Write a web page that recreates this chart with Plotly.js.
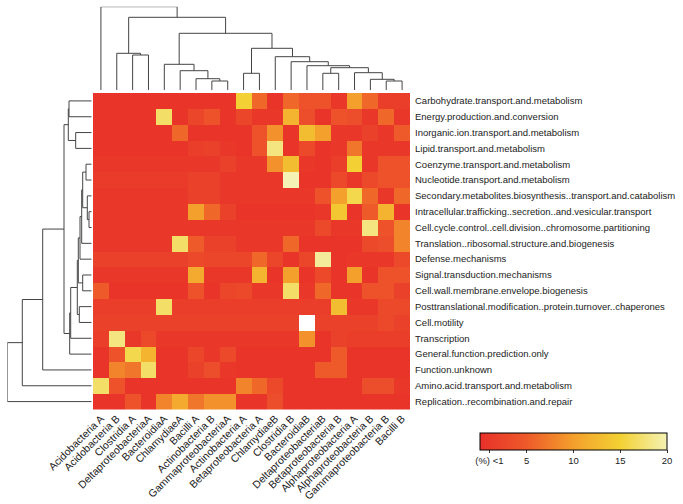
<!DOCTYPE html>
<html>
<head>
<meta charset="utf-8">
<script src="https://cdn.plot.ly/plotly-3.0.1.min.js"></script>
<style>
  html, body { margin: 0; padding: 0; background: #fff; }
  #heat { width: 683px; height: 504px; }
</style>
</head>
<body>
<div id="heat"></div>
<script>
// column labels (taxa), left to right
const colLabels = ['Acidobacteria A', 'Acidobacteria B', 'Clostridia A', 'DeltaproteobacteriaA',
  'BacteroidiaA', 'ChlamydiaeA', 'Bacilli A', 'Actinobacteria B', 'GammaproteobacteriaA',
  'Actinobacteria A', 'Betaproteobacteria A', 'ChlamydiaeB', 'Clostridia B', 'BacteroidiaB',
  'DeltaproteobacteriaB', 'Betaproteobacteria B', 'Alphaproteobacteria A', 'Alphaproteobacteria B',
  'Gammaproteobacteria B', 'Bacilli B'];

// row labels (COG categories), top to bottom
const rowLabels = ['Carbohydrate.transport.and.metabolism', 'Energy.production.and.conversion',
  'Inorganic.ion.transport.and.metabolism', 'Lipid.transport.and.metabolism',
  'Coenzyme.transport.and.metabolism', 'Nucleotide.transport.and.metabolism',
  'Secondary.metabolites.biosynthesis..transport.and.catabolism',
  'Intracellular.trafficking..secretion..and.vesicular.transport',
  'Cell.cycle.control..cell.division..chromosome.partitioning',
  'Translation..ribosomal.structure.and.biogenesis', 'Defense.mechanisms',
  'Signal.transduction.mechanisms', 'Cell.wall.membrane.envelope.biogenesis',
  'Posttranslational.modification..protein.turnover..chaperones', 'Cell.motility',
  'Transcription', 'General.function.prediction.only', 'Function.unknown',
  'Amino.acid.transport.and.metabolism', 'Replication..recombination.and.repair'];

// percentages, one row per category
const carbohydrate = [0.5, 0.5, 0.5, 0.5, 0.5, 0.5, 0.5, 0.5, 0.5, 15, 6, 0.5, 6, 4, 4, 1, 10, 6, 1.5, 1.5];
const energy = [0.5, 0.5, 0.5, 0.5, 17, 0.5, 2.5, 4, 0.5, 2.5, 1, 1, 12, 3.5, 0.5, 4, 3.5, 1, 6, 1];
const inorganic = [0.5, 0.5, 0.5, 0.5, 0.5, 6, 0.5, 0.5, 0.5, 0.5, 4, 9, 0.5, 13, 10, 1, 1, 2, 1, 5];
const lipid = [0.5, 0.5, 0.5, 0.5, 0.5, 0.5, 1.5, 2, 1, 0.5, 4, 18, 0.5, 3, 0.5, 1, 7, 1, 1, 1];
const coenzyme = [0.8, 0.8, 0.8, 0.8, 0.8, 0.8, 0.8, 0.8, 2, 1, 1, 9, 13, 1, 0.5, 1.5, 15, 1, 4, 4];
const nucleotide = [1.2, 1.2, 1.2, 1.2, 1.2, 1.2, 2, 2, 1, 1, 1, 1, 20, 0.5, 0.5, 3, 1, 3, 4, 4];
const secondary = [1, 1, 1, 1, 1, 1, 2, 2, 1, 1, 1, 1, 1, 1, 4, 10, 16, 6, 1, 6];
const intracellular = [0.8, 0.8, 0.8, 0.8, 0.8, 0.8, 10, 6, 2, 0.5, 0.5, 0.5, 0.5, 0.5, 1, 14, 0.5, 5, 12, 0.5];
const cellCycle = [1, 1, 1, 1, 1, 1, 1, 1, 1, 1, 1, 1, 1, 1, 3, 1, 1, 18, 4, 8];
const translation = [1, 1, 1, 1, 1, 17, 5, 2, 2, 1, 1, 1, 6, 0.5, 0.5, 0.5, 0.5, 3, 3.5, 8];
const defense = [2, 2, 2, 2, 2, 2, 3, 2.5, 2.5, 2.5, 6, 2.5, 0.5, 2.5, 19, 0.5, 1, 1, 1, 3];
const signal = [1, 1, 1, 1, 1, 1, 11, 1, 1, 1, 12, 0.5, 10, 0.5, 3, 0.5, 10, 0.5, 4, 4];
const cellWall = [5, 0.5, 0.5, 0.5, 0.5, 0.5, 4, 0.5, 2.5, 3, 1, 1, 17, 1, 6, 0.5, 0.5, 4, 4, 2];
const posttrans = [1.5, 1.5, 1.5, 1.5, 17, 1.5, 1.5, 1.5, 1.5, 1.5, 1.5, 1.5, 1.5, 1.5, 1.5, 13, 1, 1, 3, 3];
const motility = [2, 2, 2, 2, 2, 2, 2, 2, 2, 2, 2, 2, 2, 25, 2, 2, 2, 2, 3, 2];
const transcription = [1.5, 18, 1, 3, 1, 1, 1, 1, 1, 1, 1, 1, 1, 9, 0.5, 2, 1.5, 1.5, 1.5, 1.5];
const general = [0.5, 4, 16, 12, 0.5, 0.5, 2.5, 1, 3, 0.5, 0.5, 0.5, 0.5, 0.5, 0.5, 5, 0.5, 0.5, 0.5, 0.5];
const unknown = [0.5, 8, 7, 17, 0.5, 0.5, 2, 3.5, 1, 0.5, 0.5, 0.5, 0.5, 0.5, 5, 5, 0.5, 0.5, 0.5, 0.5];
const aminoAcid = [17, 4, 0.5, 0.5, 0.5, 0.5, 0.5, 0.5, 0.5, 8, 6, 3, 0.5, 0.5, 0.5, 0.5, 0.5, 3.5, 3.5, 1];
const replication = [0.5, 0.5, 4, 0.5, 8, 11, 7, 9, 9, 0.5, 0.5, 3.5, 0.5, 0.5, 0.5, 0.5, 0.5, 0.5, 0.5, 0.5];

const values = [carbohydrate, energy, inorganic, lipid, coenzyme, nucleotide, secondary,
  intracellular, cellCycle, translation, defense, signal, cellWall, posttrans, motility,
  transcription, general, unknown, aminoAcid, replication];

// dendrograms: [left, right, merge height]; numbers are leaf indices
const colTree = [0, [[1, [2, 3, 35], 36.7],
  [[4, [5, [6, [7, 8, 9], 11.3], 19.3], 25.7],
   [[9, 10, 16.7], [11, [12, [13, [[14, 15, 16.7], [16, [17, [18, 19, 9], 10.7], 17.3], 22.3], 24.3], 28.3], 33.3], 41.7], 56.7], 72.7], 83.3];

const rowTree = [[[[[[0, 1, 22.7], [2, 3, 16], 23.4],
  [[[[[[[[4, 5, 5.7], [6, [7, 8, 2.7], 4.4], 9], 9, 10], 10, 11.7], [11, 12, 9], 13.4], [13, 14, 12.4], 14.4], 15, 21], 16, 22], 27.7],
  17, 49], 18, 69.4], 19, 84.4];

const tickVals = [1, 5, 10, 15, 20];
const tickText = ['(%) <1', '5', '10', '15', '20'];

// walk a tree and collect the elbow segments
function dendro(node, pos, hgt) {
  if (typeof node === 'number') return {c: node, h: 0};
  const a = dendro(node[0], pos, hgt);
  const b = dendro(node[1], pos, hgt);
  const h = node[2];
  pos.push(a.c, a.c, b.c, b.c, null);
  hgt.push(a.h, h, h, b.h, null);
  return {c: (a.c + b.c) / 2, h: h};
}

const cx = [], cy = [];
dendro(colTree, cx, cy);
const rx = [], ry = [];
dendro(rowTree, ry, rx);

const lineStyle = {color: '#444', width: 1};

const scale = [
  [0, '#e8302a'], [0.25, '#ee5a2a'], [0.5, '#f4a02c'], [0.75, '#f3d134'], [1, '#f4f2b4']
];

const over = values.map(r => r.map(v => v > 20 ? v : null));

const data = [
  {
    type: 'heatmap', z: values, x: colLabels, y: rowLabels,
    zmin: 0, zmax: 20, colorscale: scale, xgap: 0, ygap: 0,
    hoverinfo: 'skip',
    colorbar: {
      orientation: 'h', x: 0.7028, xanchor: 'left', y: 0.141, yanchor: 'top',
      len: 0.2738, lenmode: 'fraction', thickness: 17,
      xpad: 0, ypad: 0,
      outlinewidth: 1, outlinecolor: '#000',
      tickvals: tickVals, ticktext: tickText,
      ticks: 'outside', ticklen: 3, tickcolor: '#333',
      tickfont: {size: 9.5, color: '#222'}
    }
  },
  {
    type: 'heatmap', z: over, x: colLabels, y: rowLabels,
    colorscale: [[0, '#ffffff'], [1, '#ffffff']], showscale: false, hoverinfo: 'skip'
  },
  {type: 'scatter', mode: 'lines', x: cx, y: cy, xaxis: 'x2', yaxis: 'y2', line: lineStyle, hoverinfo: 'skip'},
  {type: 'scatter', mode: 'lines', x: rx, y: ry, xaxis: 'x3', yaxis: 'y3', line: lineStyle, hoverinfo: 'skip'}
];

const hx = [93 / 683, 410 / 683];
const hy = [1 - 409.5 / 504, 1 - 93 / 504];
const hidden = {visible: false, showgrid: false, zeroline: false, fixedrange: true};

const layout = {
  width: 683, height: 504,
  margin: {l: 0, r: 0, t: 0, b: 0},
  paper_bgcolor: '#fff', plot_bgcolor: '#fff',
  showlegend: false,
  font: {family: 'Liberation Sans, Arial, sans-serif', color: '#222'},
  xaxis: {
    domain: hx, anchor: 'y', range: [-0.5, 19.5],
    tickmode: 'array', tickvals: colLabels, tickangle: -45,
    ticks: '', showgrid: false, zeroline: false, showline: false,
    tickfont: {size: 10.5}, automargin: false
  },
  yaxis: {
    domain: hy, anchor: 'x', autorange: 'reversed', side: 'right',
    tickmode: 'array', tickvals: rowLabels, ticklabelstandoff: 4,
    ticks: '', showgrid: false, zeroline: false, showline: false,
    tickfont: {size: 9.5}, automargin: false
  },
  xaxis2: Object.assign({domain: hx, anchor: 'y2', range: [-0.5, 19.5]}, hidden),
  yaxis2: Object.assign({domain: [1 - 90 / 504, 1 - 6.7 / 504], anchor: 'x2', range: [0, 83.3]}, hidden),
  xaxis3: Object.assign({domain: [7.3 / 683, 91.7 / 683], anchor: 'y3', range: [84.4, 0]}, hidden),
  yaxis3: Object.assign({domain: hy, anchor: 'x3', range: [19.5, -0.5]}, hidden)
};

Plotly.newPlot('heat', data, layout, {staticPlot: true});
</script>
</body>
</html>
